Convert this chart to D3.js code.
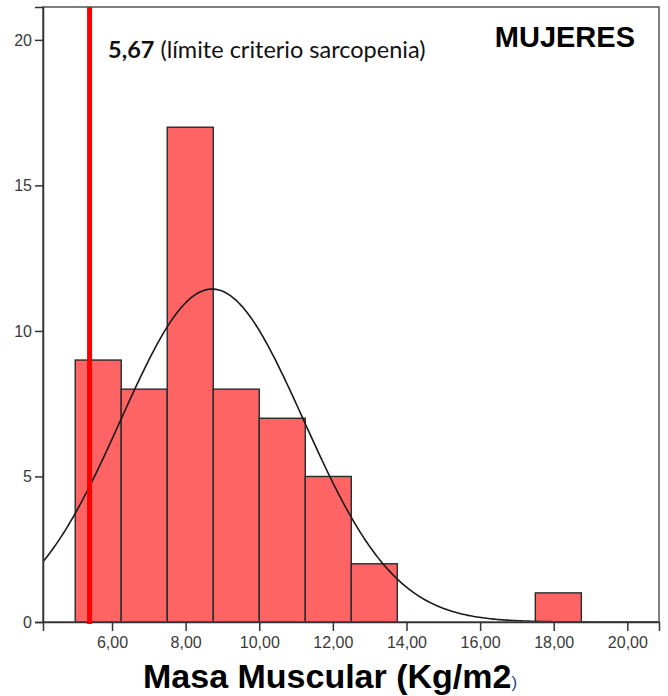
<!DOCTYPE html>
<html>
<head>
<meta charset="utf-8">
<script src="https://cdn.jsdelivr.net/npm/d3@7"></script>
<style>
  body { margin: 0; background: #fff; }
  svg { display: block; }
</style>
</head>
<body>
<div id="chart"></div>
<script>
// bins of 1.25 kg/m2, lower edges
const binStarts = [5.0, 6.25, 7.5, 8.75, 10.0, 11.25, 12.5, 13.75, 15.0, 16.25, 17.5];
const binCounts = [9, 8, 17, 8, 7, 5, 2, 0, 0, 0, 1];
const binWidth = 1.25;

const xTicks = [6, 8, 10, 12, 14, 16, 18, 20];
const yTicks = [0, 5, 10, 15, 20];

// fitted normal curve
const fitMean = 8.72;
const fitSd = 2.485;

const cutoffValue = 5.39;

const W = 668, H = 696;
const margin = { top: 7, right: 9, bottom: 74, left: 43 };

const svg = d3.select('#chart').append('svg')
    .attr('width', W)
    .attr('height', H);

const x = d3.scaleLinear()
    .domain([4.125, 20.86])
    .range([margin.left, W - margin.right]);

const y = d3.scaleLinear()
    .domain([0, 21.13])
    .range([H - margin.bottom, margin.top]);

const fmt = d => d.toFixed(2).replace('.', ',');

// bars
const bins = binStarts.map((s, i) => ({ x0: s, x1: s + binWidth, n: binCounts[i] }))
    .filter(d => d.n > 0);

svg.append('g')
    .selectAll('rect')
    .data(bins)
    .enter()
    .append('rect')
    .attr('x', d => x(d.x0))
    .attr('y', d => y(d.n))
    .attr('width', d => x(d.x1) - x(d.x0))
    .attr('height', d => y(0) - y(d.n))
    .attr('fill', '#ff6464')
    .attr('stroke', '#2a2a2a')
    .attr('stroke-width', 1.4);

// normal curve
const total = d3.sum(binCounts);
const density = v => total * binWidth / (fitSd * Math.sqrt(2 * Math.PI))
    * Math.exp(-0.5 * Math.pow((v - fitMean) / fitSd, 2));
const curvePts = d3.range(x.domain()[0], x.domain()[1], 0.05).map(v => [v, density(v)]);

svg.append('path')
    .datum(curvePts)
    .attr('fill', 'none')
    .attr('stroke', '#1a1a1a')
    .attr('stroke-width', 1.6)
    .attr('d', d3.line().x(d => x(d[0])).y(d => y(d[1])));

// frame
svg.append('rect')
    .attr('x', margin.left)
    .attr('y', margin.top)
    .attr('width', W - margin.left - margin.right)
    .attr('height', H - margin.top - margin.bottom)
    .attr('fill', 'none')
    .attr('stroke', '#555')
    .attr('stroke-width', 1.5);

// axes
const xAxis = svg.append('g')
    .attr('transform', `translate(0,${y(0)})`)
    .call(d3.axisBottom(x).tickValues(xTicks).tickFormat(fmt).tickSize(9).tickPadding(6));
const yAxis = svg.append('g')
    .attr('transform', `translate(${margin.left},0)`)
    .call(d3.axisLeft(y).tickValues(yTicks).tickSize(8).tickPadding(3));

[xAxis, yAxis].forEach(g => {
    g.select('.domain').attr('stroke', '#333').attr('stroke-width', 1.5);
    g.selectAll('.tick line').attr('stroke', '#333').attr('stroke-width', 1.5);
    g.selectAll('.tick text')
        .attr('fill', '#3a3a3a')
        .style('font-family', "'Liberation Sans', Arial, sans-serif")
        .style('font-size', '16px');
});

// cutoff line
svg.append('line')
    .attr('x1', x(cutoffValue))
    .attr('x2', x(cutoffValue))
    .attr('y1', margin.top)
    .attr('y2', y(0) + 2)
    .attr('stroke', '#ff0000')
    .attr('stroke-width', 5);

// annotations
const note = svg.append('text')
    .attr('x', 108)
    .attr('y', 58)
    .style('font-family', 'Lato, Open Sans, sans-serif')
    .style('font-size', '23.5px')
    .attr('fill', '#111');
note.append('tspan').attr('font-weight', 'bold').text('5,67');
note.append('tspan').text(' (límite criterio sarcopenia)');

svg.append('text')
    .attr('x', 635)
    .attr('y', 47)
    .attr('text-anchor', 'end')
    .style('font-family', "'Liberation Sans', Arial, sans-serif")
    .style('font-size', '29px')
    .style('font-weight', 'bold')
    .attr('fill', '#000')
    .text('MUJERES');

const title = svg.append('text')
    .attr('x', 143)
    .attr('y', 688)
    .style('font-family', "'Liberation Sans', Arial, sans-serif")
    .attr('fill', '#000');
title.append('tspan')
    .style('font-size', '34px')
    .style('font-weight', 'bold')
    .text('Masa Muscular (Kg/m2');
title.append('tspan')
    .style('font-size', '17px')
    .attr('fill', '#1f3f7a')
    .text(')');
</script>
</body>
</html>
